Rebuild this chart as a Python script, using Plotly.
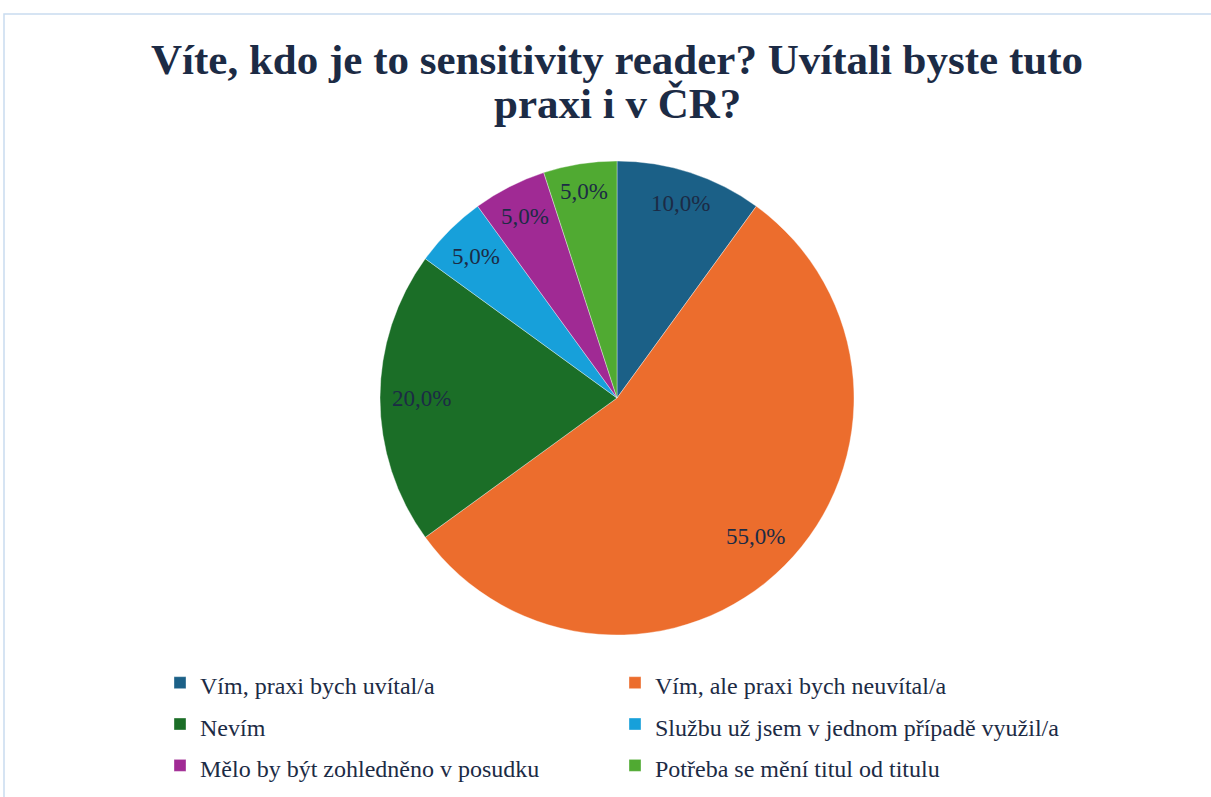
import math
import plotly.graph_objects as go

labels = [
    "Vím, praxi bych uvítal/a",
    "Vím, ale praxi bych neuvítal/a",
    "Nevím",
    "Službu už jsem v jednom případě využil/a",
    "Mělo by být zohledněno v posudku",
    "Potřeba se mění titul od titulu",
]
values = [10.0, 55.0, 20.0, 5.0, 5.0, 5.0]
colors = ["#1b6087", "#ec6d2d", "#1b6e27", "#17a0da", "#a02a94", "#50aa32"]
title_lines = ["Víte, kdo je to sensitivity reader? Uvítali byste tuto", "praxi i v ČR?"]

W, H = 1211, 797
TEXT_COLOR = "#1c2b45"
LABEL_SIZE = 23

# pie box in pixels (left, right, top, bottom)
PL, PR, PT, PB = 380, 854, 161, 635
dom_x = [PL / W, PR / W]
dom_y = [1 - PB / H, 1 - PT / H]
CX, CY = (PL + PR) / 2, (PT + PB) / 2
R_PX = (PR - PL) / 2

fig = go.Figure()
fig.add_trace(go.Pie(
    labels=[f'<span style="font-size:24px">{l}</span>' for l in labels],
    values=values,
    sort=False,
    direction="clockwise",
    rotation=0,
    marker=dict(colors=colors, line=dict(color="rgba(255,255,255,0.6)", width=0.6)),
    textinfo="none",
    domain=dict(x=dom_x, y=dom_y),
    hoverinfo="label+percent",
))

# data labels placed "inside end" of each slice, derived from the values
annotations = []
total = sum(values)
cum = 0.0
for v in values:
    mid = (cum + v / 2) / total * 360.0
    cum += v
    txt = f"{v / total * 100:.1f}%".replace(".", ",")
    hw = 0.25 * LABEL_SIZE * len(txt) * 0.9
    hh = 0.4 * LABEL_SIZE
    a = math.radians(mid)
    extent = abs(math.sin(a)) * hw + abs(math.cos(a)) * hh
    rr = R_PX - 16 - extent
    px = CX + rr * math.sin(a)
    py = CY - rr * math.cos(a)
    annotations.append(dict(
        text=txt, xref="paper", yref="paper", x=px / W, y=1 - py / H,
        xanchor="center", yanchor="middle", showarrow=False,
        font=dict(family="Liberation Serif", size=LABEL_SIZE, color=TEXT_COLOR),
    ))

for i, (line, ypx) in enumerate(zip(title_lines, [60, 104])):
    annotations.append(dict(
        text=f"<b>{line}</b>", xref="paper", yref="paper",
        x=617 / W, y=1 - ypx / H, xanchor="center", yanchor="middle", showarrow=False,
        font=dict(family="Liberation Serif", size=43, color=TEXT_COLOR),
    ))

fig.update_layout(
    width=W, height=H,
    margin=dict(l=0, r=0, t=0, b=0),
    paper_bgcolor="white",
    plot_bgcolor="white",
    annotations=annotations,
    legend=dict(
        orientation="h",
        x=160 / W, xanchor="left",
        y=1 - 657 / H, yanchor="top",
        entrywidth=410, entrywidthmode="pixels",
        font=dict(family="Liberation Serif", size=29.5, color=TEXT_COLOR),
        traceorder="normal",
    ),
    shapes=[dict(
        type="rect", xref="paper", yref="paper",
        x0=4 / W, x1=1.05, y0=-0.05, y1=1 - 14 / H,
        line=dict(color="#c9dcf0", width=1.5),
        fillcolor="rgba(0,0,0,0)",
        layer="below",
    )],
)

fig.write_html("out.html", config={"displayModeBar": False},
               post_script="document.body.style.margin='0';")
